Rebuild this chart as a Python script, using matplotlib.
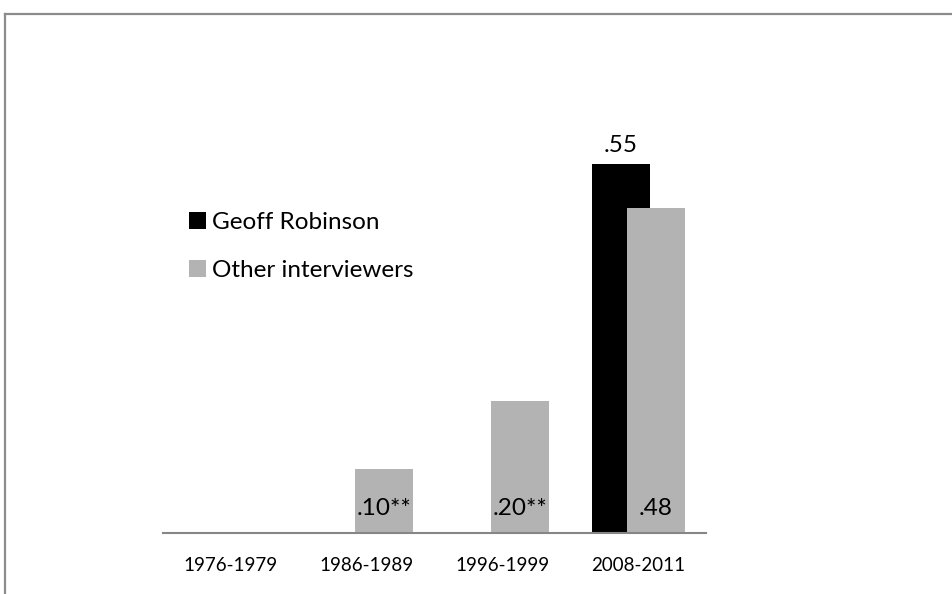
import numpy as np
import matplotlib
matplotlib.use("Agg")
import matplotlib.pyplot as plt
from matplotlib.patches import Patch
from matplotlib.lines import Line2D

# Data
periods = ["1976-1979", "1986-1989", "1996-1999", "2008-2011"]
geoff_values = [np.nan, np.nan, np.nan, 0.55]
other_values = [np.nan, 0.096, 0.197, 0.484]
geoff_labels = ["", "", "", ".55"]
other_labels = ["", ".10**", ".20**", ".48"]

plt.rcParams['font.family'] = ['Lato', 'DejaVu Sans']


def plot_chart():
    fig = plt.figure(figsize=(9.53, 5.94), dpi=100)
    W, H = 953, 594

    # chart area border (top and left visible)
    fig.add_artist(Line2D([4.5 / W, 4.5 / W], [-0.1, 1 - 14 / H], transform=fig.transFigure,
                          color="#8c8c8c", lw=1.6))
    fig.add_artist(Line2D([4.5 / W, 1.1], [1 - 14 / H, 1 - 14 / H], transform=fig.transFigure,
                          color="#8c8c8c", lw=1.6))

    # plot area in pixels: x 163..706, y 63..533
    ax = fig.add_axes([163 / W, (H - 533) / H, (706 - 163) / W, (533 - 63) / H])

    x = np.arange(len(periods))
    width = 0.427
    shift = 0.129

    ax.bar(x - shift, geoff_values, width=width, color="black", label="Geoff Robinson")
    ax.bar(x + shift, other_values, width=width, color="#b3b3b3", label="Other interviewers")

    # value labels: black bar above, grey bars inside base
    for i in range(len(periods)):
        if geoff_labels[i]:
            ax.annotate(geoff_labels[i], (x[i] - shift, geoff_values[i]), xytext=(0, 8.5),
                        textcoords="offset points", ha="center", va="baseline", fontsize=17.5)
        if other_labels[i]:
            ax.annotate(other_labels[i], (x[i] + shift, 0), xytext=(0, 13),
                        textcoords="offset points", ha="center", va="baseline", fontsize=17.5)

    ax.set_xlim(-0.5, len(periods) - 0.5)
    ax.set_ylim(0, 0.7)
    ax.set_xticks(x)
    ax.set_xticklabels(periods, fontsize=13.5)
    ax.tick_params(axis="x", length=0, pad=17)
    ax.set_yticks([])
    for s in ["top", "right", "left"]:
        ax.spines[s].set_visible(False)
    ax.spines["bottom"].set_color("#868686")
    ax.spines["bottom"].set_linewidth(1.5)

    handles = [Patch(facecolor="black"), Patch(facecolor="#b3b3b3")]
    fig.legend(handles, ["Geoff Robinson", "Other interviewers"],
               loc="upper left", bbox_to_anchor=(189 / W, 1 - 212 / H),
               frameon=False, fontsize=17.5, handlelength=0.68, handleheight=0.68,
               handletextpad=0.28, labelspacing=1.1, borderpad=0, borderaxespad=0)

    fig.savefig("out.png", dpi=100)


def main():
    plot_chart()


if __name__ == "__main__":
    main()
